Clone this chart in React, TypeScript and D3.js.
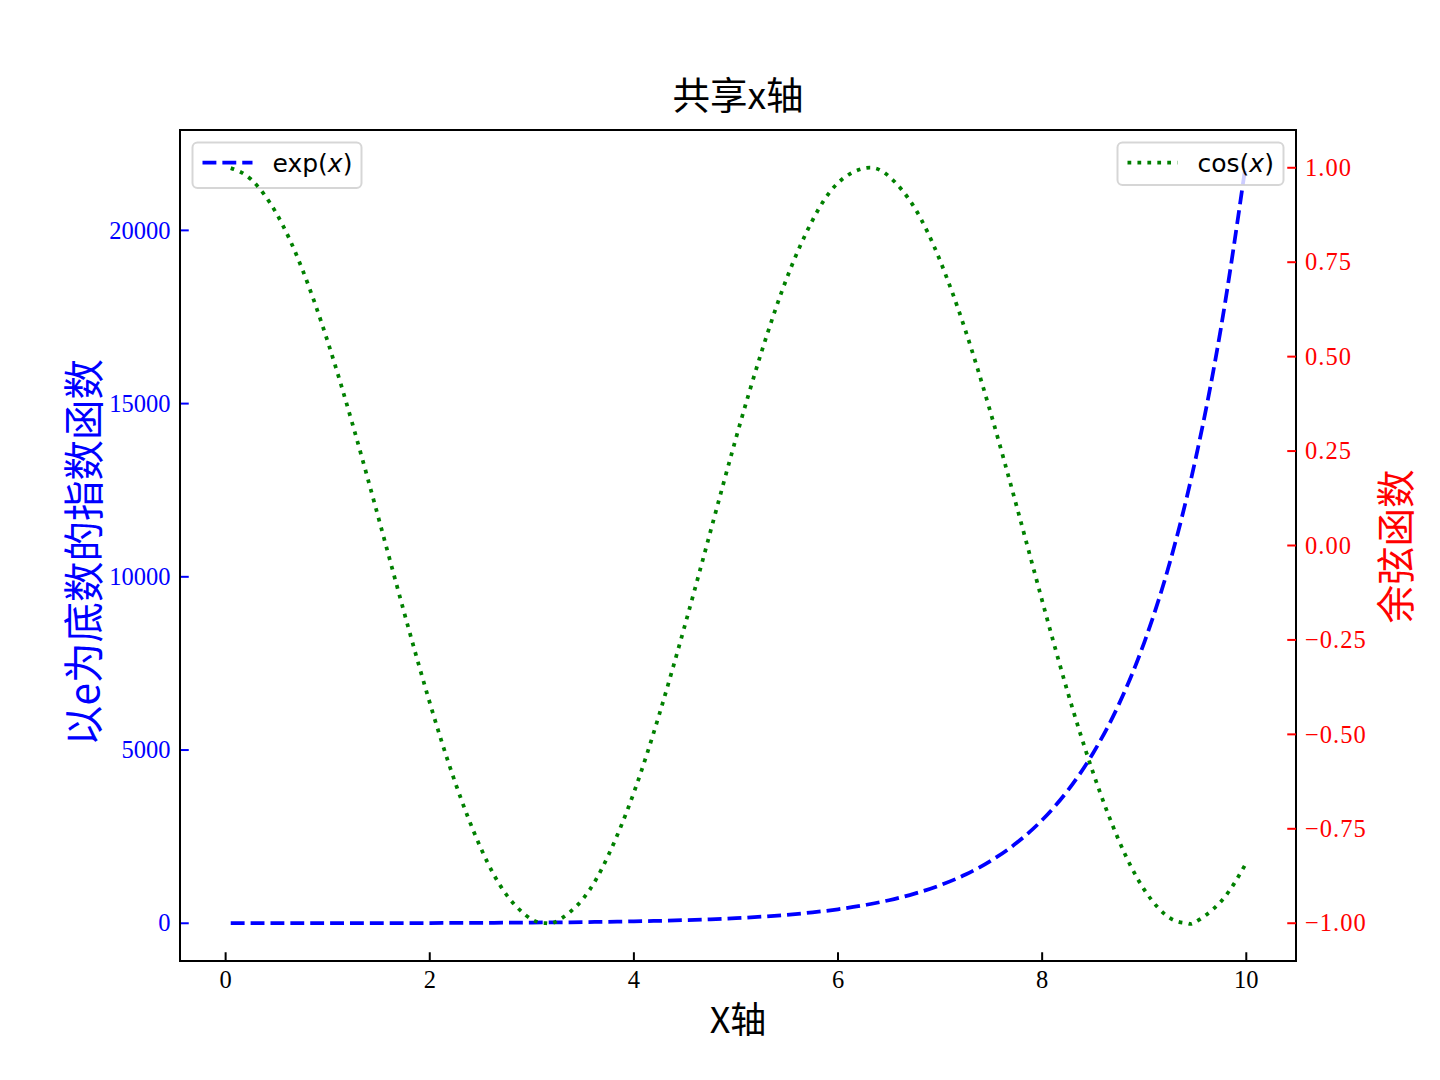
import React from 'react';
import * as d3 from 'd3';

// ---- data ----
const xValues = [0.05, 0.25, 0.5, 0.75, 1.0, 1.25, 1.5, 1.75, 2.0, 2.25, 2.5, 2.75, 3.0, 3.14, 3.25, 3.5, 3.75, 4.0, 4.25, 4.5, 4.75, 5.0, 5.25, 5.5, 5.75, 6.0, 6.28, 6.5, 6.75, 7.0, 7.25, 7.5, 7.75, 8.0, 8.25, 8.5, 8.75, 9.0, 9.25, 9.42, 9.5, 9.75, 9.99];
const expValues = [1.05, 1.28, 1.65, 2.12, 2.72, 3.49, 4.48, 5.75, 7.39, 9.49, 12.2, 15.6, 20.1, 23.1, 25.8, 33.1, 42.5, 54.6, 70.1, 90.0, 115.6, 148.4, 190.6, 244.7, 314.2, 403.4, 533.7, 665.1, 854.1, 1096.6, 1408.1, 1808.0, 2321.6, 2981.0, 3827.6, 4914.8, 6310.7, 8103.1, 10404.6, 12333, 13359.7, 17154.2, 21807];
const cosValues = [0.999, 0.969, 0.878, 0.732, 0.540, 0.315, 0.071, -0.178, -0.416, -0.628, -0.801, -0.924, -0.990, -1.000, -0.994, -0.936, -0.820, -0.654, -0.446, -0.211, 0.037, 0.284, 0.512, 0.709, 0.861, 0.960, 1.000, 0.977, 0.894, 0.754, 0.568, 0.347, 0.104, -0.146, -0.388, -0.602, -0.780, -0.911, -0.986, -1.000, -0.997, -0.943, -0.845];
const xTicks = [0, 2, 4, 6, 8, 10];
const leftTicks = [0, 5000, 10000, 15000, 20000];
const rightTicks = [-1.0, -0.75, -0.5, -0.25, 0.0, 0.25, 0.5, 0.75, 1.0];
const titleText = '共享x轴';
const xLabel = 'X轴';
const leftLabel = '以e为底数的指数函数';
const rightLabel = '余弦函数';

// ---- layout ----
const W = 1440;
const H = 1080;
const L = 180;
const R = 1296;
const T = 130;
const B = 961;
const TICK = 8.75;
const SERIF = '"Liberation Serif", "DejaVu Serif", serif';
const CJK = '"Noto Sans CJK SC", "Noto Sans", sans-serif';
const SANS = '"DejaVu Sans", sans-serif';

function padded(ext: [number, number]): [number, number] {
  const m = (ext[1] - ext[0]) * 0.05;
  return [ext[0] - m, ext[1] + m];
}

export default function App() {
  const x = d3.scaleLinear().domain(padded(d3.extent(xValues) as [number, number])).range([L, R]);
  const yL = d3.scaleLinear().domain(padded(d3.extent(expValues) as [number, number])).range([B, T]);
  const yR = d3.scaleLinear().domain(padded(d3.extent(cosValues) as [number, number])).range([B, T]);

  const expPath = d3.line<number>()
    .x((_, i) => x(xValues[i]))
    .y((d) => yL(d))
    .curve(d3.curveMonotoneX)(expValues) || '';
  const cosPath = d3.line<number>()
    .x((_, i) => x(xValues[i]))
    .y((d) => yR(d))
    .curve(d3.curveNatural)(cosValues) || '';

  const fmtR = d3.format('.2f');
  const blue = '#0000ff';
  const green = '#008000';
  const red = '#ff0000';
  const dashed = '13.875 6';
  const dotted = '3.75 6.19';

  // legends
  const pad = 12.5;
  const lgL = { x: L + pad, y: T + pad, w: 169, h: 45.5 };
  const lgR = { x: R - pad - 166, y: T + pad, w: 166, h: 42.5 };
  const handleY = T + 32.7;
  const textY = T + 41.5;

  return (
    <svg width={W} height={H} viewBox={`0 0 ${W} ${H}`} style={{ position: 'absolute', left: 0, top: 0, background: '#fff' }}>
      <defs>
        <clipPath id="plotclip">
          <rect x={L} y={T} width={R - L} height={B - T} />
        </clipPath>
      </defs>
      <rect x={0} y={0} width={W} height={H} fill="#fff" />

      {/* ax1 line */}
      <path d={expPath} fill="none" stroke={blue} strokeWidth={3.75} strokeDasharray={dashed} clipPath="url(#plotclip)" />

      {/* x ticks */}
      {xTicks.map((t) => (
        <g key={'xt' + t}>
          <line x1={x(t)} x2={x(t)} y1={B} y2={B - TICK} stroke="#000" strokeWidth={2} />
          <text x={x(t)} y={B + 27} textAnchor="middle" fontFamily={SERIF} fontSize={24.5} fill="#000">{t}</text>
        </g>
      ))}
      {/* left ticks */}
      {leftTicks.map((t) => (
        <g key={'lt' + t}>
          <line x1={L} x2={L + TICK} y1={yL(t)} y2={yL(t)} stroke={blue} strokeWidth={2} />
          <text x={L - 9.5} y={yL(t) + 8.2} textAnchor="end" fontFamily={SERIF} fontSize={24.5} fill={blue}>{t}</text>
        </g>
      ))}

      {/* spines */}
      <rect x={L} y={T} width={R - L} height={B - T} fill="none" stroke="#000" strokeWidth={2} />

      {/* left legend */}
      <rect x={lgL.x} y={lgL.y} width={lgL.w} height={lgL.h} rx={5} ry={5} fill="#fff" fillOpacity={0.8} stroke="#cccccc" strokeOpacity={0.8} strokeWidth={2} />
      <line x1={lgL.x + 10} x2={lgL.x + 60} y1={handleY} y2={handleY} stroke={blue} strokeWidth={3.75} strokeDasharray={dashed} />
      <text x={lgL.x + 80} y={textY} fontFamily={SANS} fontSize={25} fill="#000">
        exp(<tspan fontStyle="italic">x</tspan>)
      </text>

      {/* ax2 line */}
      <path d={cosPath} fill="none" stroke={green} strokeWidth={3.75} strokeDasharray={dotted} clipPath="url(#plotclip)" />

      {/* right ticks */}
      {rightTicks.map((t) => (
        <g key={'rt' + t}>
          <line x1={R} x2={R - TICK} y1={yR(t)} y2={yR(t)} stroke={red} strokeWidth={2} />
          <text x={R + 9} y={yR(t) + 8.2} textAnchor="start" fontFamily={SERIF} fontSize={24.5} letterSpacing={1} fill={red}>{fmtR(t)}</text>
        </g>
      ))}

      {/* right legend */}
      <rect x={lgR.x} y={lgR.y} width={lgR.w} height={lgR.h} rx={5} ry={5} fill="#fff" fillOpacity={0.8} stroke="#cccccc" strokeOpacity={0.8} strokeWidth={2} />
      <line x1={lgR.x + 10} x2={lgR.x + 60} y1={handleY} y2={handleY} stroke={green} strokeWidth={3.75} strokeDasharray={dotted} />
      <text x={lgR.x + 80} y={textY} fontFamily={SANS} fontSize={25} fill="#000">
        cos(<tspan fontStyle="italic">x</tspan>)
      </text>

      {/* labels */}
      <text x={(L + R) / 2} y={109} textAnchor="middle" fontFamily={CJK} fontSize={37.5} fill="#000">{titleText}</text>
      <text x={(L + R) / 2} y={1033} textAnchor="middle" fontFamily={CJK} fontSize={36} fill="#000">{xLabel}</text>
      <text transform={`translate(${99},${(T + B) / 2 + 7}) rotate(-90)`} textAnchor="middle" fontFamily={CJK} fontSize={40.5} fill={blue}>{leftLabel}</text>
      <text transform={`translate(${1409.5},${(T + B) / 2 + 1}) rotate(-90)`} textAnchor="middle" fontFamily={CJK} fontSize={38.5} fill={red}>{rightLabel}</text>
    </svg>
  );
}
